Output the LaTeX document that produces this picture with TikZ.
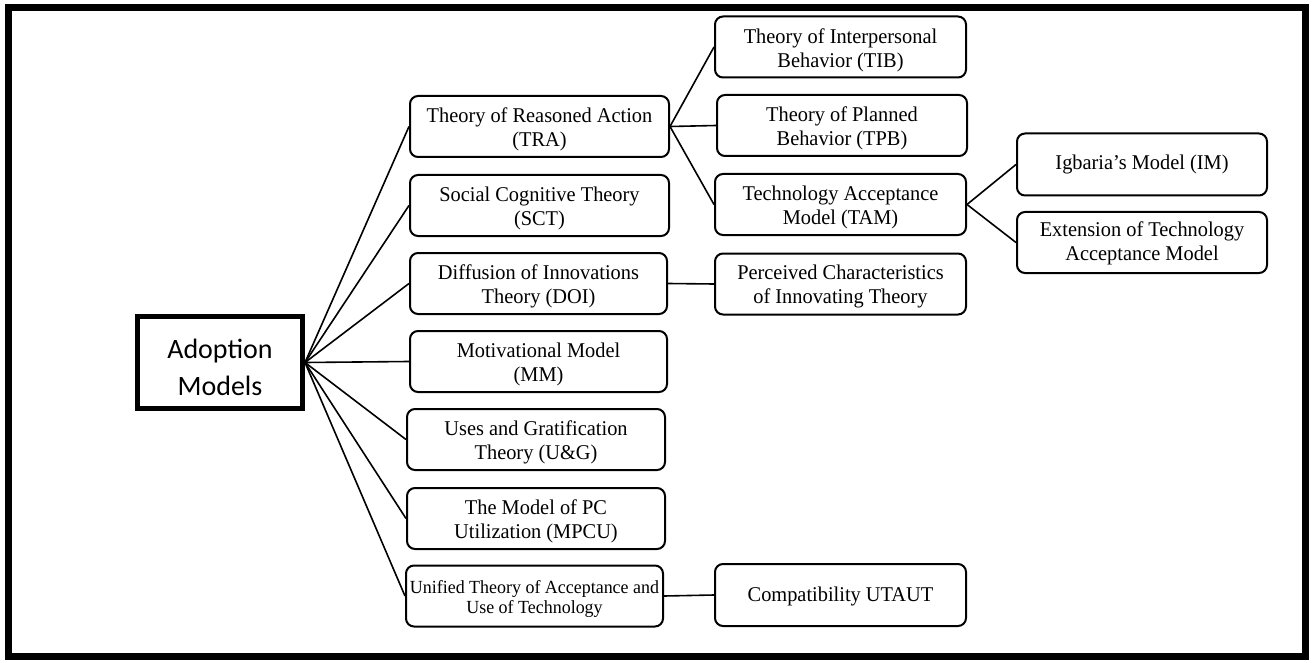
\documentclass[tikz,border=0pt]{standalone}
\usepackage{fontspec}
\setmainfont[FakeStretch=0.97]{Liberation Serif}
\newfontfamily\rootfont{Carlito}
\begin{document}
\begin{tikzpicture}[x=1pt,y=-1pt,
  model/.style={draw, line width=2pt, rounded corners=8pt, align=center,
    inner sep=0pt, minimum height=61pt, font=\fontsize{21}{24}\selectfont},
  twoline/.style={text height=44.5pt},
  rootbox/.style={draw, line width=5pt, align=center, inner sep=0pt, text height=67pt,
    minimum width=165pt, minimum height=91.5pt, font=\rootfont\fontsize{28}{37.5}\selectfont},
  link/.style={line width=1.6pt}]
\useasboundingbox (0,0) rectangle (1314,663);
% outer frame
\draw[line width=7pt] (8,8) rectangle (1305,656);

% root
\node[rootbox] (root) at (220,362.5) {Adoption\\Models};

% first level
\node[model, twoline, minimum width=259pt] (tra)  at (539.5,126.5) {Theory of Reasoned Action\\(TRA)};
\node[model, twoline, minimum width=259pt] (sct)  at (539.5,205.5) {Social Cognitive Theory\\(SCT)};
\node[model, twoline, minimum width=257pt] (doi)  at (538.5,283.5) {Diffusion of Innovations\\Theory (DOI)};
\node[model, twoline, minimum width=257pt] (mm)   at (538.5,361.5) {Motivational Model\\(MM)};
\node[model, twoline, minimum width=258pt] (ug)   at (536,439.5)   {Uses and Gratification\\Theory (U\&G)};
\node[model, twoline, minimum width=258pt] (mpcu) at (536,518.5)   {The Model of PC\\Utilization (MPCU)};
\node[model, minimum width=257pt, text height=39.5pt,
      font=\fontsize{18.5}{20.5}\selectfont] (utaut) at (534.5,596) {Unified Theory of Acceptance and\\Use of Technology};

% second level
\node[model, twoline, minimum width=251pt] (tib)  at (840.5,47)    {Theory of Interpersonal\\Behavior (TIB)};
\node[model, twoline, minimum width=250pt] (tpb)  at (842,125.5)   {Theory of Planned\\Behavior (TPB)};
\node[model, twoline, minimum width=251pt] (tam)  at (840.5,204.5) {Technology Acceptance\\Model (TAM)};
\node[model, twoline, minimum width=251pt] (pcit) at (840.5,284)   {Perceived Characteristics\\of Innovating Theory};
\node[model, minimum width=251pt, minimum height=62pt, text height=18.3pt] (compat) at (840.5,595) {Compatibility UTAUT};

% third level
\node[model, minimum width=250pt, minimum height=62pt] (im) at (1142,164.5) {Igbaria’s Model (IM)};
\node[model, minimum width=250pt, text height=41pt] (etam) at (1142,242.5) {Extension of Technology\\Acceptance Model};

% connectors
\foreach \n in {tra,sct,doi,mm,ug,mpcu,utaut}
  \draw[link] (root.east) -- (\n.west);
\foreach \n in {tib,tpb,tam}
  \draw[link] (tra.east) -- (\n.west);
\draw[link] (tam.east) -- (im.west);
\draw[link] (tam.east) -- (etam.west);
\draw[link] (doi.east) -- (pcit.west);
\draw[link] (utaut.east) -- (compat.west);
\end{tikzpicture}
\end{document}
